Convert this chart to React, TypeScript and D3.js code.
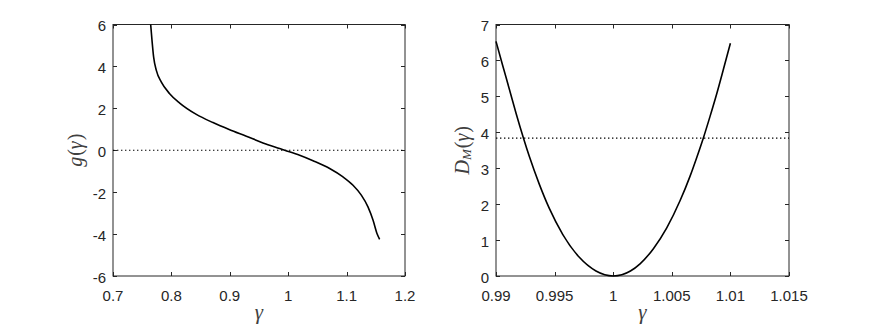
import React, { useEffect, useRef } from 'react';
import * as d3 from 'd3';

// left panel: g(gamma)
const gGamma = [0.7645, 0.7668, 0.7696, 0.7742, 0.7828, 0.797, 0.8142, 0.8427, 0.8712, 0.8998, 0.9283, 0.9568, 0.9854, 0.994, 1.0196, 1.0425, 1.071, 1.0938, 1.111, 1.1252, 1.1366, 1.1452, 1.152, 1.1566];
const gValue = [6, 5.24, 4.44, 3.81, 3.25, 2.7, 2.25, 1.71, 1.32, 0.98, 0.67, 0.35, 0.08, 0, -0.24, -0.5, -0.87, -1.27, -1.67, -2.14, -2.7, -3.33, -3.97, -4.25];
const gXTicks = [0.7, 0.8, 0.9, 1, 1.1, 1.2];
const gYTicks = [-6, -4, -2, 0, 2, 4, 6];
const gRef = 0;

// right panel: D_M(gamma)
const dGamma = [0.99, 0.99057, 0.99114, 0.99171, 0.99236, 0.99284, 0.9937, 0.99455, 0.99569, 0.99711, 0.99853, 1.0, 1.00147, 1.00229, 1.00343, 1.00457, 1.00571, 1.00656, 1.00713, 1.0077, 1.00827, 1.00884, 1.00941, 1.01];
const dValue = [6.53, 5.86, 5.2, 4.53, 3.82, 3.33, 2.55, 1.88, 1.16, 0.52, 0.14, 0, 0.14, 0.34, 0.76, 1.34, 2.1, 2.78, 3.3, 3.85, 4.45, 5.08, 5.76, 6.48];
const dXTicks = [0.99, 0.995, 1, 1.005, 1.01, 1.015];
const dYTicks = [0, 1, 2, 3, 4, 5, 6, 7];
const dRef = 3.84;

const W = 872;
const H = 327;
const AXIS = '#262626';
const LABEL = '#404040';

function drawPanel(svg, opts) {
  const { left, right, top, bottom, xDomain, yDomain, xTicks, yTicks, xs, ys, refY, ylabel, ylabelX } = opts;
  const x = d3.scaleLinear().domain(xDomain).range([left, right]);
  const y = d3.scaleLinear().domain(yDomain).range([bottom, top]);
  const g = svg.append('g');
  const tick = 4;

  // box
  g.append('rect')
    .attr('x', left).attr('y', top)
    .attr('width', right - left).attr('height', bottom - top)
    .attr('fill', 'white').attr('stroke', AXIS).attr('stroke-width', 1);

  // ticks on all four sides, pointing in
  xTicks.forEach(t => {
    const px = Math.round(x(t)) + 0.5;
    g.append('line').attr('x1', px).attr('x2', px).attr('y1', bottom).attr('y2', bottom - tick).attr('stroke', AXIS);
    g.append('line').attr('x1', px).attr('x2', px).attr('y1', top).attr('y2', top + tick).attr('stroke', AXIS);
    g.append('text')
      .attr('x', x(t)).attr('y', bottom + 19)
      .attr('text-anchor', 'middle').attr('dominant-baseline', 'central')
      .attr('font-family', '"Liberation Sans", Arial, sans-serif').attr('font-size', 15)
      .attr('fill', AXIS).text(String(t));
  });
  yTicks.forEach(t => {
    const py = Math.round(y(t)) + 0.5;
    g.append('line').attr('x1', left).attr('x2', left + tick).attr('y1', py).attr('y2', py).attr('stroke', AXIS);
    g.append('line').attr('x1', right).attr('x2', right - tick).attr('y1', py).attr('y2', py).attr('stroke', AXIS);
    g.append('text')
      .attr('x', left - 7).attr('y', y(t) + 1)
      .attr('text-anchor', 'end').attr('dominant-baseline', 'central')
      .attr('font-family', '"Liberation Sans", Arial, sans-serif').attr('font-size', 15)
      .attr('fill', AXIS).text(String(t));
  });

  // dotted reference line
  g.append('line')
    .attr('x1', left).attr('x2', right)
    .attr('y1', y(refY)).attr('y2', y(refY))
    .attr('stroke', 'black').attr('stroke-width', 1.2)
    .attr('stroke-dasharray', '1.4,2.6');

  // curve
  const pts = xs.map((v, i) => [v, ys[i]]);
  const line = d3.line()
    .x(d => x(d[0]))
    .y(d => y(d[1]))
    .curve(d3.curveMonotoneX);
  g.append('path')
    .attr('d', line(pts))
    .attr('fill', 'none')
    .attr('stroke', 'black')
    .attr('stroke-width', 1.6);

  // x label
  g.append('text')
    .attr('x', (left + right) / 2).attr('y', 319)
    .attr('text-anchor', 'middle')
    .attr('font-family', '"Liberation Serif", "DejaVu Serif", serif')
    .attr('font-style', 'italic').attr('font-size', 21)
    .attr('fill', LABEL).text('γ');

  // y label (rotated)
  const yl = g.append('text')
    .attr('transform', `translate(${ylabelX},${(top + bottom) / 2}) rotate(-90)`)
    .attr('text-anchor', 'middle').attr('dominant-baseline', 'central')
    .attr('font-family', '"Liberation Serif", "DejaVu Serif", serif')
    .attr('font-size', 20).attr('fill', LABEL);
  ylabel(yl);
}

const App = () => {
  const ref = useRef(null);

  useEffect(() => {
    const svg = d3.select(ref.current);
    svg.selectAll('*').remove();

    drawPanel(svg, {
      left: 113, right: 405, top: 24.5, bottom: 276,
      xDomain: [0.7, 1.2], yDomain: [-6, 6],
      xTicks: gXTicks, yTicks: gYTicks,
      xs: gGamma, ys: gValue, refY: gRef,
      ylabelX: 75,
      ylabel: t => {
        t.append('tspan').attr('font-style', 'italic').text('g');
        t.append('tspan').attr('dx', 1).text('(');
        t.append('tspan').attr('font-style', 'italic').text('γ');
        t.append('tspan').attr('dx', 1).text(')');
      }
    });

    drawPanel(svg, {
      left: 496, right: 789, top: 24.5, bottom: 276,
      xDomain: [0.99, 1.015], yDomain: [0, 7],
      xTicks: dXTicks, yTicks: dYTicks,
      xs: dGamma, ys: dValue, refY: dRef,
      ylabelX: 462,
      ylabel: t => {
        t.append('tspan').attr('font-style', 'italic').text('D');
        t.append('tspan').attr('font-style', 'italic').attr('font-size', 13).attr('dy', 4).text('M');
        t.append('tspan').attr('dy', -4).attr('dx', 1).text('(');
        t.append('tspan').attr('font-style', 'italic').text('γ');
        t.append('tspan').attr('dx', 1).text(')');
      }
    });
  }, []);

  return (
    <div style={{ position: 'absolute', left: 0, top: 0, width: W, height: H, background: 'white' }}>
      <svg ref={ref} width={W} height={H} />
    </div>
  );
};

export default App;
